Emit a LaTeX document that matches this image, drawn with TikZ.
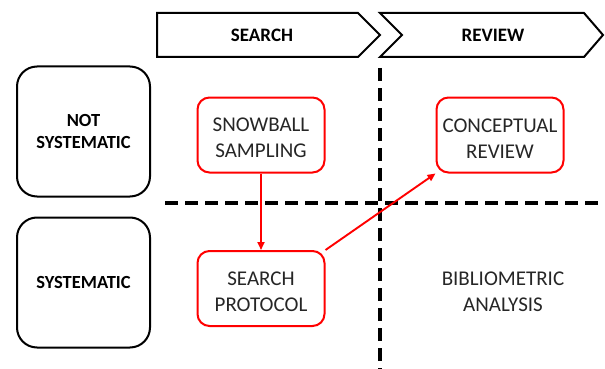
\documentclass[tikz,border=0pt]{standalone}
\usepackage{fontspec}
\setmainfont{Carlito}
\usetikzlibrary{arrows.meta}

\begin{document}
\begin{tikzpicture}[x=1pt,y=-1pt,line width=2pt,
  rowbox/.style={draw,rounded corners=20pt,minimum width=133pt,minimum height=130pt,align=center,font=\fontsize{18.5}{22}\selectfont\bfseries},
  stagetext/.style={align=center,font=\fontsize{21}{26}\selectfont\color{black!85},text height=46pt},
  stagebox/.style={stagetext,draw=red,rounded corners=12pt,minimum width=127pt,minimum height=75pt},
  headtext/.style={font=\fontsize{19}{22}\selectfont\bfseries},
  flow/.style={draw=red,line width=1.9pt,-{Triangle[length=8pt,width=7pt]}},
  divider/.style={line width=3.2pt,dash pattern=on 13pt off 7pt}]
  \useasboundingbox (0,0) rectangle (605,369);
  \draw (157,13)--(358,13)--(380,35)--(358,57)--(157,57)--cycle;
  \draw (380,13)--(584,13)--(603,35)--(584,57)--(380,57)--(402,35)--cycle;
  \node [headtext] (search) at (262,35) {SEARCH};
  \node [headtext] (review) at (493,35) {REVIEW};
  \draw [divider](380,68)--(380,369);
  \draw [divider](165,203)--(605,203);
  \node [rowbox] (notsys) at (83.5,131.5) {NOT\\SYSTEMATIC};
  \node [rowbox] (sys) at (83.5,282.5) {SYSTEMATIC};
  \node [stagebox] (snow) at (261,135) {SNOWBALL\\SAMPLING};
  \node [stagebox] (concept) at (500,135) {CONCEPTUAL\\REVIEW};
  \node [stagebox] (proto) at (261,288.5) {SEARCH\\PROTOCOL};
  \node [stagetext] (biblio) at (503,288.5) {BIBLIOMETRIC\\ANALYSIS};
  \draw [flow](snow)--(proto);
  \draw [flow](proto.north east)--(concept.south west);
  \end{tikzpicture}
\end{document}
